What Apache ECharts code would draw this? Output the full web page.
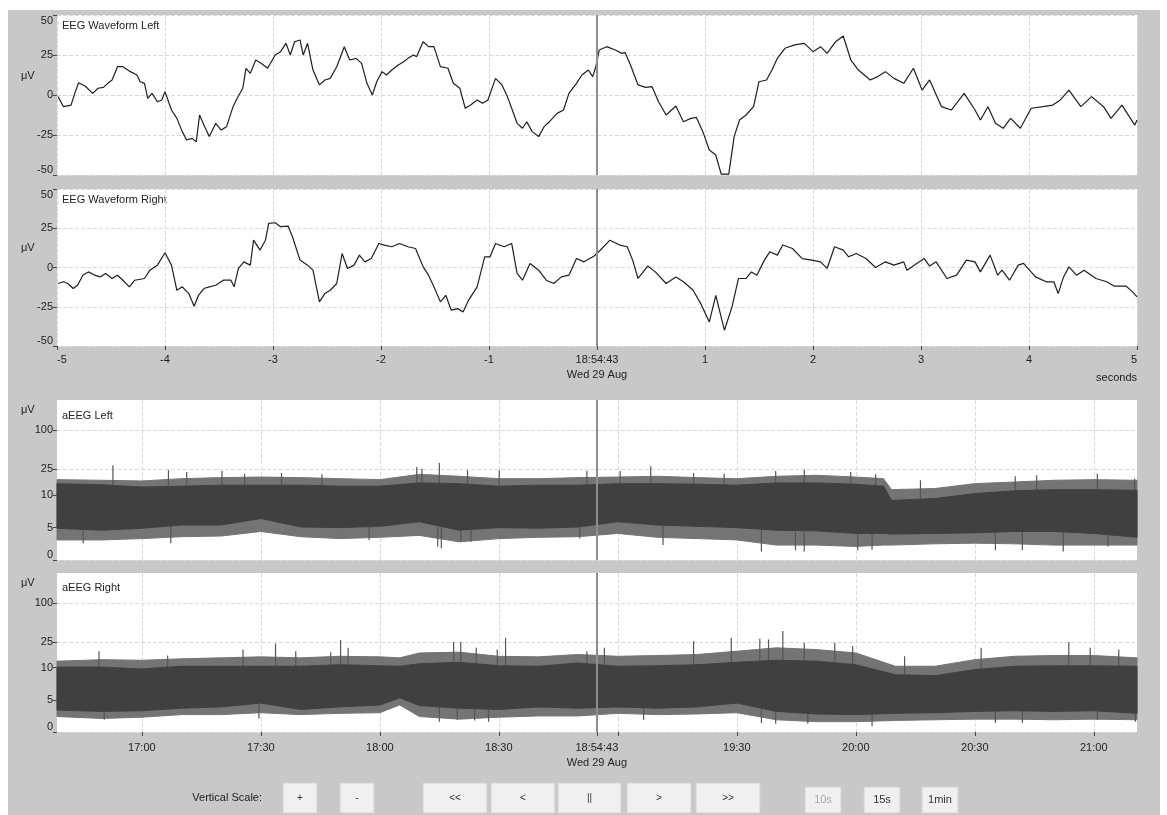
<!DOCTYPE html>
<html>
<head>
<meta charset="utf-8">
<title>EEG / aEEG monitor</title>
<script src="https://cdn.jsdelivr.net/npm/echarts@6/dist/echarts.min.js"></script>
<style>
  html, body { margin: 0; padding: 0; background: #fff; }
  #chart { width: 1167px; height: 815px; }
</style>
</head>
<body>
<div id="chart"></div>
<script>
// raw EEG, 10 s window around the cursor  [seconds, uV]
const eegLeft = [
  [-4.99,-1.0],[-4.94,-7.3],[-4.87,-6.3],[-4.83,2.1],[-4.80,7.7],[-4.74,5.6],[-4.67,1.0],[-4.62,4.2],[-4.57,4.8],[-4.53,7.3],
  [-4.49,9.4],[-4.44,17.7],[-4.39,17.7],[-4.32,14.6],[-4.26,12.5],[-4.23,8.3],[-4.19,7.3],[-4.16,-2.1],[-4.12,1.0],[-4.07,-4.2],
  [-4.03,-3.1],[-4.00,2.1],[-3.94,-9.4],[-3.89,-14.6],[-3.84,-22.9],[-3.80,-28.1],[-3.75,-27.1],[-3.71,-29.2],[-3.68,-12.5],[-3.64,-18.8],
  [-3.59,-26.0],[-3.53,-17.7],[-3.48,-21.9],[-3.43,-19.8],[-3.37,-7.3],[-3.34,-3.1],[-3.28,4.2],[-3.25,16.7],[-3.21,13.5],[-3.16,21.9],
  [-3.11,19.8],[-3.05,16.7],[-2.98,25.0],[-2.93,27.1],[-2.88,32.3],[-2.84,25.0],[-2.80,33.3],[-2.75,34.4],[-2.72,25.0],[-2.68,32.3],
  [-2.63,15.6],[-2.57,6.3],[-2.52,9.4],[-2.47,10.4],[-2.41,17.7],[-2.34,30.2],[-2.29,21.9],[-2.23,22.9],[-2.18,19.8],[-2.13,7.3],
  [-2.08,0.0],[-2.04,8.3],[-1.99,14.6],[-1.95,12.5],[-1.90,15.6],[-1.84,18.8],[-1.79,20.8],[-1.75,22.9],[-1.70,25.0],[-1.67,24.0],
  [-1.61,33.3],[-1.56,30.2],[-1.51,30.2],[-1.45,17.7],[-1.38,16.7],[-1.33,7.3],[-1.27,4.2],[-1.22,-8.3],[-1.17,-6.3],[-1.11,-3.1],
  [-1.06,-5.2],[-1.01,-3.1],[-0.94,10.4],[-0.88,6.3],[-0.83,-1.0],[-0.79,-8.3],[-0.74,-17.7],[-0.69,-20.8],[-0.65,-16.7],[-0.60,-22.9],
  [-0.54,-26.0],[-0.49,-19.8],[-0.44,-16.7],[-0.37,-11.5],[-0.31,-9.4],[-0.26,1.0],[-0.19,7.3],[-0.14,12.5],[-0.08,15.6],[-0.04,11.5],
  [-0.01,18.0],[0.02,28.1],[0.09,30.2],[0.17,28.1],[0.23,26.0],[0.26,26.5],[0.31,18.8],[0.38,6.3],[0.45,4.8],[0.51,5.2],
  [0.57,-4.2],[0.64,-12.5],[0.73,-6.9],[0.80,-16.7],[0.87,-14.6],[0.92,-14.0],[0.98,-22.9],[1.04,-34.4],[1.10,-37.5],[1.15,-49.5],
  [1.22,-49.5],[1.27,-26.0],[1.32,-15.6],[1.38,-12.5],[1.45,-7.3],[1.50,8.3],[1.57,9.4],[1.62,15.6],[1.67,22.9],[1.74,29.2],
  [1.83,31.3],[1.92,32.3],[2.00,27.1],[2.07,30.2],[2.13,26.0],[2.21,33.3],[2.28,36.9],[2.35,21.9],[2.42,15.6],[2.53,9.4],
  [2.60,11.5],[2.67,14.6],[2.75,10.4],[2.84,7.3],[2.93,16.7],[3.01,3.1],[3.08,9.4],[3.19,-7.3],[3.28,-9.4],[3.40,1.0],
  [3.50,-9.4],[3.55,-15.6],[3.62,-7.3],[3.69,-17.7],[3.76,-20.8],[3.83,-14.6],[3.92,-20.8],[4.02,-8.3],[4.13,-7.3],[4.22,-6.3],
  [4.29,-3.1],[4.37,3.1],[4.48,-7.3],[4.58,-1.0],[4.69,-7.3],[4.76,-14.6],[4.86,-6.3],[4.98,-18.8],[5.00,-15.6]
];
const eegRight = [
  [-4.99,-10.2],[-4.94,-9.1],[-4.90,-10.2],[-4.85,-13.4],[-4.81,-11.3],[-4.76,-4.9],[-4.71,-2.8],[-4.65,-4.9],[-4.60,-6.0],[-4.55,-3.8],
  [-4.49,-7.0],[-4.44,-4.9],[-4.39,-8.1],[-4.33,-12.3],[-4.28,-8.1],[-4.19,-7.0],[-4.14,-1.7],[-4.07,1.5],[-4.00,9.4],[-3.94,1.5],
  [-3.89,-14.5],[-3.84,-12.3],[-3.78,-16.6],[-3.73,-24.7],[-3.69,-17.7],[-3.64,-13.4],[-3.59,-12.3],[-3.53,-11.3],[-3.46,-8.1],[-3.39,-8.1],
  [-3.36,-12.3],[-3.32,-0.6],[-3.27,3.6],[-3.21,1.5],[-3.18,17.4],[-3.12,11.1],[-3.07,17.4],[-3.04,28.1],[-2.98,28.5],[-2.93,26.0],
  [-2.86,26.4],[-2.82,19.6],[-2.75,4.7],[-2.68,1.5],[-2.63,-1.7],[-2.57,-21.9],[-2.52,-16.6],[-2.47,-14.5],[-2.41,-10.2],[-2.36,8.9],
  [-2.31,-0.6],[-2.25,1.5],[-2.20,7.9],[-2.15,3.6],[-2.09,5.7],[-2.02,15.3],[-1.97,14.3],[-1.90,13.2],[-1.83,15.3],[-1.75,13.2],
  [-1.68,12.1],[-1.61,0.4],[-1.56,-4.9],[-1.51,-12.3],[-1.45,-21.9],[-1.40,-17.7],[-1.35,-27.2],[-1.29,-26.2],[-1.24,-28.3],[-1.19,-20.9],
  [-1.11,-12.3],[-1.04,6.8],[-0.99,6.8],[-0.94,15.3],[-0.86,13.2],[-0.79,15.3],[-0.74,-3.8],[-0.69,-8.1],[-0.62,2.6],[-0.54,-1.7],
  [-0.47,-8.1],[-0.40,-10.2],[-0.33,-6.0],[-0.26,-4.9],[-0.19,5.7],[-0.12,3.6],[-0.03,7.2],[0.00,8.9],[0.12,17.4],[0.21,14.3],
  [0.28,13.2],[0.33,4.7],[0.38,-7.0],[0.47,0.9],[0.54,-2.8],[0.64,-10.2],[0.73,-6.0],[0.80,-9.1],[0.89,-14.5],[0.96,-23.0],
  [1.04,-34.7],[1.10,-17.7],[1.18,-40.0],[1.25,-25.1],[1.31,-7.0],[1.38,-7.0],[1.43,-2.8],[1.48,-4.9],[1.55,4.7],[1.60,10.0],
  [1.67,7.9],[1.72,14.3],[1.81,12.1],[1.90,5.7],[1.99,4.7],[2.07,3.6],[2.13,-0.6],[2.20,13.2],[2.28,11.1],[2.33,6.8],
  [2.40,8.9],[2.49,5.7],[2.58,0.0],[2.67,3.6],[2.75,1.5],[2.84,3.6],[2.87,-1.7],[2.96,2.6],[3.03,5.7],[3.08,0.9],
  [3.14,3.6],[3.24,-7.0],[3.33,-4.9],[3.42,4.7],[3.50,3.6],[3.55,-2.8],[3.64,7.9],[3.71,-4.9],[3.75,-1.7],[3.82,-8.1],
  [3.90,1.5],[3.95,2.6],[4.06,-6.0],[4.16,-9.1],[4.23,-9.1],[4.27,-16.6],[4.32,-6.0],[4.37,0.4],[4.44,-4.9],[4.51,-1.7],
  [4.62,-7.0],[4.72,-9.1],[4.79,-11.9],[4.90,-11.9],[4.96,-15.5],[5.00,-18.7]
];

// cursor
const cursorTime = '18:54:43';
const cursorDate = 'Wed 29 Aug';

// aEEG trend, times in minutes after midnight, amplitudes in uV
const aeegTicks = [0, 5, 10, 25, 100];
const timeTicks = ['17:00', '17:30', '18:00', '18:30', '19:00', '19:30', '20:00', '20:30', '21:00'];

const leftTimes = [998.6, 1010, 1020, 1030, 1040, 1050, 1060, 1070, 1080, 1090, 1100, 1110, 1120, 1130, 1140,
  1150, 1160, 1170, 1180, 1190, 1200, 1207, 1209, 1220, 1230, 1240, 1250, 1260, 1270.9];
const leftCoreLo = [4.9, 4.6, 4.9, 5.4, 5.4, 6.4, 5.1, 5.0, 5.2, 5.9, 4.6, 5.0, 4.9, 5.1, 5.9,
  5.4, 5.2, 5.0, 4.6, 4.5, 4.1, 4.1, 4.0, 4.1, 4.2, 4.4, 4.4, 4.1, 3.5];
const leftCoreHi = [15.1, 14.5, 13.4, 13.8, 14.3, 14.3, 14.3, 13.8, 13.8, 15.5, 15.1, 13.8, 14.3, 14.3, 15.1,
  15.1, 14.8, 14.3, 15.5, 15.5, 14.8, 13.8, 9.2, 9.5, 10.6, 11.7, 12.2, 12.2, 11.9];
const leftEdgeLo = [3.1, 3.1, 3.3, 3.6, 3.7, 4.4, 3.6, 3.3, 3.5, 3.8, 2.8, 3.3, 3.5, 3.6, 4.1,
  3.5, 3.3, 3.1, 2.3, 2.3, 2.1, 2.3, 2.3, 2.5, 2.6, 2.5, 2.3, 2.3, 2.3];
const leftEdgeHi = [17.4, 17.0, 16.6, 18.0, 18.7, 19.1, 18.7, 18.0, 17.4, 21.0, 19.6, 18.0, 18.0, 18.7, 19.1,
  19.6, 18.7, 18.0, 19.6, 20.3, 19.1, 18.0, 12.2, 12.7, 15.1, 16.0, 17.0, 17.4, 17.0];
const leftPeakT = [1012.7, 1026.7, 1031.3, 1040.2, 1045.9, 1055.2, 1065.4, 1089.3, 1090.6, 1095, 1102.1, 1110.1, 1132.2,
  1140.6, 1148.3, 1159.1, 1166.8, 1179.8, 1187, 1198.7, 1205, 1216.3, 1240.2, 1245.6, 1260.9, 1270.3];
const leftPeakV = [29.0, 24.3, 22.9, 23.7, 21.5, 22.1, 21.0, 27.3, 25.7, 31.4, 24.3, 24.3, 23.7,
  23.7, 27.9, 22.1, 21.5, 23.7, 24.8, 22.9, 21.0, 17.0, 19.6, 20.3, 21.5, 18.0];
const leftDipT = [1005.2, 1027.3, 1077.3, 1094.6, 1095.5, 1100.4, 1103, 1130.4, 1151.4, 1176.2, 1184.8, 1187,
  1200.5, 1204.1, 1235.2, 1242, 1252.3, 1263.6];
const leftDipV = [2.6, 2.6, 3.1, 2.1, 1.8, 2.8, 2.8, 3.3, 2.3, 1.3, 1.5, 1.3, 1.5, 1.6, 1.5, 1.5, 1.3, 2.1];

const rightTimes = [998.6, 1010, 1020, 1030, 1040, 1050, 1060, 1070, 1080, 1085, 1090, 1100, 1110, 1120, 1130,
  1140, 1150, 1160, 1170, 1180, 1190, 1200, 1210, 1220, 1230, 1240, 1250, 1260, 1270.9];
const rightCoreLo = [3.4, 3.2, 3.3, 3.7, 3.9, 4.5, 3.5, 3.9, 4.2, 5.3, 4.1, 3.7, 3.5, 3.9, 3.7,
  3.9, 3.7, 3.9, 4.5, 3.2, 2.8, 2.7, 2.9, 3.0, 3.2, 3.3, 3.2, 3.3, 2.9];
const rightCoreHi = [10.2, 10.2, 9.8, 10.5, 10.5, 10.5, 10.5, 11.1, 10.7, 10.5, 11.5, 12.1, 10.7, 10.5, 11.8,
  10.5, 10.7, 11.1, 12.1, 13.0, 12.6, 11.1, 8.9, 8.75, 9.7, 10.5, 10.7, 10.7, 10.5];
const rightEdgeLo = [2.4, 2.1, 2.3, 2.7, 2.7, 3.0, 2.7, 2.9, 3.0, 4.2, 2.4, 2.0, 2.3, 2.5, 2.5,
  2.9, 2.7, 2.8, 3.0, 1.9, 1.6, 1.6, 1.8, 1.9, 2.0, 2.0, 1.9, 2.0, 1.9];
const rightEdgeHi = [12.6, 13.3, 13.0, 13.7, 14.2, 14.7, 14.2, 15.0, 14.7, 14.2, 16.9, 17.4, 15.0, 14.7, 16.0,
  15.0, 15.4, 16.0, 18.0, 20.3, 19.1, 16.9, 10.5, 10.5, 13.3, 15.0, 15.4, 15.4, 14.2];
const rightPeakT = [1009.2, 1026.5, 1045.5, 1053.7, 1058.8, 1067.6, 1070.1, 1072, 1098.6, 1100.4, 1104.3, 1109.6, 1111.7, 1132.2,
  1136.6, 1159.1, 1168.6, 1175.8, 1178, 1181.6, 1187, 1194.7, 1199.2, 1212.3, 1231.6, 1253.7, 1259.1, 1266.3];
const rightPeakV = [18.0, 15.4, 19.1, 23.7, 18.0, 17.4, 26.7, 20.3, 24.9, 24.9, 20.3, 19.1, 29.1, 18.0,
  20.3, 25.8, 29.1, 28.1, 27.4, 37.0, 24.3, 24.3, 21.5, 15.0, 20.3, 24.9, 20.3, 19.1];
const rightDipT = [1010.5, 1049.5, 1095, 1099.5, 1103.9, 1107.4, 1146.5, 1176.2, 1179.8, 1187.9, 1204.1, 1235.2, 1242, 1260.9, 1270.5];
const rightDipV = [1.9, 2.1, 1.6, 1.9, 1.8, 1.6, 1.9, 1.4, 1.3, 1.3, 0.9, 1.4, 1.4, 1.9, 1.6];

const buttonLabels = ['+', '-', '<<', '<', '||', '>', '>>', '10s', '15s', '1min'];

// ---------------------------------------------------------------

const FONT = "'Liberation Sans', Arial, sans-serif";
const TXT = '#222';

function toMin(s) {
  const p = s.split(':').map(Number);
  return p[0] * 60 + p[1] + (p[2] || 0) / 60;
}
function fmtMin(m) {
  const h = Math.floor(m / 60), mm = Math.round(m - h * 60);
  return h + ':' + (mm < 10 ? '0' : '') + mm;
}
// aEEG semi-log scale: linear 0-10 uV, log above 10 uV
function amp(v) {
  return v <= 10 ? v / 10 : 1 + Math.log10(v / 10);
}

const cursorMin = toMin(cursorTime);
const timeMins = timeTicks.map(toMin);
const labelMins = timeMins.filter(m => Math.abs(m - cursorMin) > 10).concat([cursorMin]);
const tickMins = timeMins.concat([cursorMin]);
const ampTicks = aeegTicks.map(amp);

const T_MIN = 998.6, T_MAX = 1270.9;

function bandSeries(idx, times, lo, hi, color, z) {
  const data = times.map((t, i) => [t, amp(lo[i]), amp(hi[i])]);
  return {
    type: 'custom', xAxisIndex: idx, yAxisIndex: idx, z: z, silent: true,
    data: data,
    renderItem: function (params, api) {
      if (params.dataIndex !== 0) return;
      const top = [], bot = [];
      for (let i = 0; i < data.length; i++) {
        top.push(api.coord([data[i][0], data[i][2]]));
        bot.push(api.coord([data[i][0], data[i][1]]));
      }
      return {
        type: 'polygon',
        shape: { points: top.concat(bot.reverse()) },
        style: { fill: color, stroke: color, lineWidth: 1 }
      };
    }
  };
}

function spikeSeries(idx, times, vals, base) {
  return {
    type: 'custom', xAxisIndex: idx, yAxisIndex: idx, z: 3, silent: true,
    data: times.map((t, i) => [t, amp(vals[i])]),
    renderItem: function (params, api) {
      const p = api.coord([api.value(0), api.value(1)]);
      const b = api.coord([api.value(0), amp(base)]);
      return {
        type: 'line',
        shape: { x1: p[0], y1: p[1], x2: b[0], y2: b[1] },
        style: { stroke: '#555', lineWidth: 1.2 }
      };
    }
  };
}

function cursorLine(x) {
  return {
    silent: true, symbol: ['none', 'none'], label: { show: false },
    lineStyle: { color: '#8e8e8e', width: 2, type: 'solid' },
    data: [{ xAxis: x }], z: 10
  };
}

const gridLine = { show: true, lineStyle: { color: '#d9d9d9', type: 'dashed', width: 1 } };
const tickStyle = { show: true, length: 4, lineStyle: { color: '#444' } };
const noLine = { show: false, onZero: false };
const lblStyle = { color: TXT, fontSize: 11, fontFamily: FONT };

const grids = [
  { left: 57, top: 15, width: 1080, height: 160 },
  { left: 57, top: 189, width: 1080, height: 157 },
  { left: 57, top: 400, width: 1080, height: 160 },
  { left: 57, top: 573, width: 1080, height: 159 }
].map(g => Object.assign(g, { show: true, backgroundColor: '#fff', borderWidth: 0 }));

const xAxes = [
  { gridIndex: 0, type: 'value', min: -5, max: 5, interval: 1,
    axisLine: noLine, axisTick: { show: false }, axisLabel: { show: false }, splitLine: gridLine },
  { gridIndex: 1, type: 'value', min: -5, max: 5, interval: 1,
    axisLine: noLine, axisTick: tickStyle, splitLine: gridLine,
    axisLabel: Object.assign({}, lblStyle, {
      margin: 6, lineHeight: 15, showMinLabel: true, showMaxLabel: true,
      alignMinLabel: 'left', alignMaxLabel: 'right',
      formatter: v => v === 0 ? cursorTime + '\n' + cursorDate : String(v)
    }) },
  { gridIndex: 2, type: 'value', min: T_MIN, max: T_MAX,
    axisLine: noLine, splitLine: gridLine,
    axisTick: { show: false, customValues: timeMins },
    axisLabel: { show: false, customValues: timeMins } },
  { gridIndex: 3, type: 'value', min: T_MIN, max: T_MAX,
    axisLine: noLine, splitLine: gridLine,
    axisTick: Object.assign({}, tickStyle, { customValues: tickMins }),
    axisLabel: Object.assign({}, lblStyle, {
      customValues: labelMins, margin: 8, lineHeight: 15,
      formatter: v => Math.abs(v - cursorMin) < 0.01 ? cursorTime + '\n' + cursorDate : fmtMin(v)
    }) }
];

function eegY(idx) {
  return {
    gridIndex: idx, type: 'value', min: -50, max: 50, interval: 25,
    axisLine: noLine, axisTick: tickStyle, splitLine: gridLine,
    axisLabel: Object.assign({}, lblStyle, {
      margin: 4, verticalAlignMaxLabel: 'top', verticalAlignMinLabel: 'bottom'
    })
  };
}
function aeegY(idx) {
  return {
    gridIndex: idx, type: 'value', min: 0, max: 2.47,
    axisLine: noLine, splitLine: gridLine,
    axisTick: Object.assign({}, tickStyle, { customValues: ampTicks }),
    axisLabel: Object.assign({}, lblStyle, {
      margin: 4, customValues: ampTicks, verticalAlignMinLabel: 'bottom',
      formatter: function (v) {
        let best = 0;
        ampTicks.forEach((a, i) => { if (Math.abs(a - v) < Math.abs(ampTicks[best] - v)) best = i; });
        return String(aeegTicks[best]);
      }
    })
  };
}

const CORE = '#404040', EDGE = '#747474';

const series = [
  { type: 'line', xAxisIndex: 0, yAxisIndex: 0, data: eegLeft, symbol: 'none', silent: true,
    lineStyle: { color: '#1f1f1f', width: 1.2 }, z: 5, markLine: cursorLine(0) },
  { type: 'line', xAxisIndex: 1, yAxisIndex: 1, data: eegRight, symbol: 'none', silent: true,
    lineStyle: { color: '#1f1f1f', width: 1.2 }, z: 5, markLine: cursorLine(0) },

  bandSeries(2, leftTimes, leftEdgeLo, leftEdgeHi, EDGE, 2),
  spikeSeries(2, leftPeakT, leftPeakV, 8),
  spikeSeries(2, leftDipT, leftDipV, 6),
  Object.assign(bandSeries(2, leftTimes, leftCoreLo, leftCoreHi, CORE, 4), { markLine: cursorLine(cursorMin) }),

  bandSeries(3, rightTimes, rightEdgeLo, rightEdgeHi, EDGE, 2),
  spikeSeries(3, rightPeakT, rightPeakV, 8),
  spikeSeries(3, rightDipT, rightDipV, 6),
  Object.assign(bandSeries(3, rightTimes, rightCoreLo, rightCoreHi, CORE, 4), { markLine: cursorLine(cursorMin) })
];

// text / frame / buttons
const txt = (x, y, s, extra) => ({
  type: 'text', x: x, y: y, silent: true,
  style: Object.assign({ text: s, fill: TXT, font: '11px ' + FONT }, extra || {})
});

const graphic = [
  { type: 'rect', z: -10, silent: true, shape: { x: 8, y: 10, width: 1152, height: 805 }, style: { fill: '#c8c8c8' } },
  txt(62, 20, 'EEG Waveform Left'),
  txt(62, 194, 'EEG Waveform Right'),
  txt(62, 410, 'aEEG Left'),
  txt(62, 582, 'aEEG Right'),
  txt(21, 70, 'μV'),
  txt(21, 242, 'μV'),
  txt(21, 404, 'μV'),
  txt(21, 577, 'μV'),
  txt(1137, 372, 'seconds', { align: 'right' }),
  txt(262, 798, 'Vertical Scale:', { align: 'right', verticalAlign: 'middle' })
];

const btnBoxes = [[283, 34], [340, 34], [423, 64], [491, 64], [558, 63], [627, 64], [696, 64], [805, 36], [864, 36], [922, 36]];
buttonLabels.forEach((label, i) => {
  const small = i >= 7;
  const y = small ? 787 : 783;
  const h = small ? 26 : 30;
  graphic.push({
    type: 'group', silent: true,
    children: [
      { type: 'rect', shape: { x: btnBoxes[i][0], y: y, width: btnBoxes[i][1], height: h },
        style: { fill: '#f0f0f0', stroke: '#d2d2d2', lineWidth: 1 } },
      { type: 'text', x: btnBoxes[i][0] + btnBoxes[i][1] / 2, y: y + h / 2,
        style: { text: label, fill: i === 7 ? '#a8a8a8' : '#333', font: (small ? '11px ' : '10px ') + FONT,
          align: 'center', verticalAlign: 'middle' } }
    ]
  });
});

const chart = echarts.init(document.getElementById('chart'), null, { renderer: 'canvas' });
chart.setOption({
  animation: false,
  backgroundColor: '#fff',
  textStyle: { fontFamily: FONT },
  grid: grids,
  xAxis: xAxes,
  yAxis: [eegY(0), eegY(1), aeegY(2), aeegY(3)],
  series: series,
  graphic: graphic
});
</script>
</body>
</html>
